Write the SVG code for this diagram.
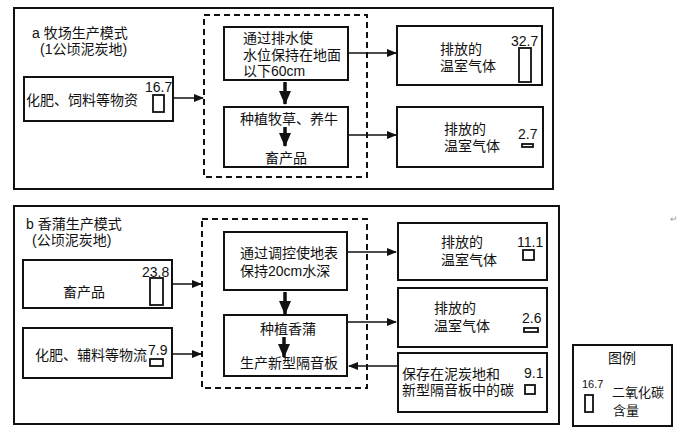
<svg xmlns="http://www.w3.org/2000/svg" width="685" height="434" viewBox="0 0 685 434">
<style>
text{font-family:"Liberation Sans","Noto Sans CJK SC",sans-serif;font-size:14px;fill:#111}
.box{fill:#fff;stroke:#111;stroke-width:2}
.frame{fill:none;stroke:#111;stroke-width:2}
.dash{fill:none;stroke:#111;stroke-width:2;stroke-dasharray:6 4}
.bar{fill:#fff;stroke:#111;stroke-width:1.8}
.con{fill:none;stroke:#111;stroke-width:1.5}
.thick{fill:none;stroke:#111;stroke-width:3.5}
.c{text-anchor:middle}
</style>
<defs>
<marker id="ah" markerWidth="10" markerHeight="8" refX="9" refY="4" orient="auto" markerUnits="userSpaceOnUse">
<path d="M0,0 L10,4 L0,8 Z" fill="#111"/>
</marker>
<marker id="bh" markerWidth="14" markerHeight="12" refX="13" refY="6" orient="auto" markerUnits="userSpaceOnUse">
<path d="M0,0 L14,6 L0,12 Z" fill="#111"/>
</marker>
</defs>
<rect width="685" height="434" fill="#fff"/>

<g id="panel-a">
<rect class="frame" x="14" y="8" width="539" height="181"/>
<text x="32" y="38">a 牧场生产模式<tspan x="40" dy="16">(1公顷泥炭地)</tspan></text>
<rect class="dash" x="204" y="15" width="163" height="162"/>
</g>

<g id="a-input">
<rect class="box" x="24" y="77" width="149" height="44"/>
<text x="26" y="105">化肥、饲料等物资</text>
<text x="145" y="92">16.7</text>
<rect class="bar" x="153" y="95" width="11" height="17"/>
</g>

<g id="a-drain">
<rect class="box" x="224" y="27" width="124" height="53"/>
<text x="243" y="43">通过排水使<tspan x="243" dy="17">水位保持在地面</tspan><tspan x="243" dy="16">以下60cm</tspan></text>
</g>

<g id="a-grass">
<rect class="box" x="224" y="107" width="124" height="60"/>
<text class="c" x="289" y="124">种植牧草、养牛</text>
<text class="c" x="286" y="163">畜产品</text>
</g>

<g id="a-ghg1">
<rect class="box" x="397" y="26" width="145" height="59"/>
<text x="440" y="54">排放的<tspan x="440" dy="17">温室气体</tspan></text>
<text x="511" y="46">32.7</text>
<rect class="bar" x="519" y="48" width="12" height="34"/>
</g>

<g id="a-ghg2">
<rect class="box" x="397" y="107" width="146" height="60"/>
<text x="444" y="134">排放的<tspan x="444" dy="17">温室气体</tspan></text>
<text x="518" y="139">2.7</text>
<rect class="bar" x="522" y="144" width="11" height="3"/>
</g>

<g id="panel-b">
<rect class="frame" x="14" y="206" width="545" height="218"/>
<text x="26" y="229">b 香蒲生产模式<tspan x="32" dy="16">(公顷泥炭地)</tspan></text>
<rect class="dash" x="202" y="219" width="165" height="169"/>
</g>

<g id="b-livestock">
<rect class="box" x="23" y="260" width="149" height="48"/>
<text class="c" x="84" y="297">畜产品</text>
<text x="142" y="277">23.8</text>
<rect class="bar" x="150" y="278" width="13" height="27"/>
</g>

<g id="b-input">
<rect class="box" x="23" y="328" width="149" height="50"/>
<text x="35" y="360">化肥、辅料等物流</text>
<text x="148" y="355">7.9</text>
<rect class="bar" x="150" y="359" width="13" height="7"/>
</g>

<g id="b-water">
<rect class="box" x="224" y="232" width="123" height="58"/>
<text x="240" y="258">通过调控使地表<tspan x="240" dy="18">保持20cm水深</tspan></text>
</g>

<g id="b-cattail">
<rect class="box" x="224" y="315" width="123" height="61"/>
<text class="c" x="288" y="334">种植香蒲</text>
<text class="c" x="289" y="368">生产新型隔音板</text>
</g>

<g id="b-ghg1">
<rect class="box" x="398" y="223" width="149" height="57"/>
<text x="441" y="247">排放的<tspan x="441" dy="18">温室气体</tspan></text>
<text x="517" y="247">11.1</text>
<rect class="bar" x="523" y="250" width="11" height="10"/>
</g>

<g id="b-ghg2">
<rect class="box" x="398" y="288" width="149" height="59"/>
<text x="434" y="313">排放的<tspan x="434" dy="18">温室气体</tspan></text>
<text x="522" y="323">2.6</text>
<rect class="bar" x="524" y="328" width="14" height="4"/>
</g>

<g id="b-store">
<rect class="box" x="398" y="353" width="149" height="59"/>
<text x="402" y="379">保存在泥炭地和<tspan x="402" dy="16">新型隔音板中的碳</tspan></text>
<text x="524" y="378">9.1</text>
<rect class="bar" x="525" y="385" width="10" height="9"/>
</g>

<g id="legend">
<rect class="box" x="573" y="345" width="99" height="81"/>
<text class="c" x="622" y="363">图例</text>
<text x="582" y="388" style="font-size:11px">16.7</text>
<rect class="bar" x="585" y="395" width="8" height="17"/>
<text x="612" y="397" style="font-size:13px">二氧化碳<tspan x="613" dy="18">含量</tspan></text>
</g>

<text x="670" y="222" style="font-size:9px;fill:#999">↵</text>

<g id="connectors">
<line class="con" x1="173" y1="98" x2="203" y2="98" marker-end="url(#ah)"/>
<line class="con" x1="348" y1="53" x2="396" y2="53" marker-end="url(#ah)"/>
<line class="con" x1="348" y1="135" x2="396" y2="135" marker-end="url(#ah)"/>
<line class="thick" x1="285" y1="82" x2="285" y2="104" marker-end="url(#bh)"/>
<line class="thick" x1="285" y1="127" x2="285" y2="146" marker-end="url(#bh)"/>
<line class="con" x1="172" y1="284" x2="201" y2="284" marker-end="url(#ah)"/>
<line class="con" x1="172" y1="354" x2="201" y2="354" marker-end="url(#ah)"/>
<line class="con" x1="347" y1="252" x2="396" y2="252" marker-end="url(#ah)"/>
<line class="con" x1="347" y1="322" x2="396" y2="322" marker-end="url(#ah)"/>
<line class="con" x1="397" y1="366" x2="349" y2="366" marker-end="url(#ah)"/>
<line class="thick" x1="285" y1="292" x2="285" y2="314" marker-end="url(#bh)"/>
<line class="thick" x1="284" y1="337" x2="284" y2="357" marker-end="url(#bh)"/>
</g>
</svg>
